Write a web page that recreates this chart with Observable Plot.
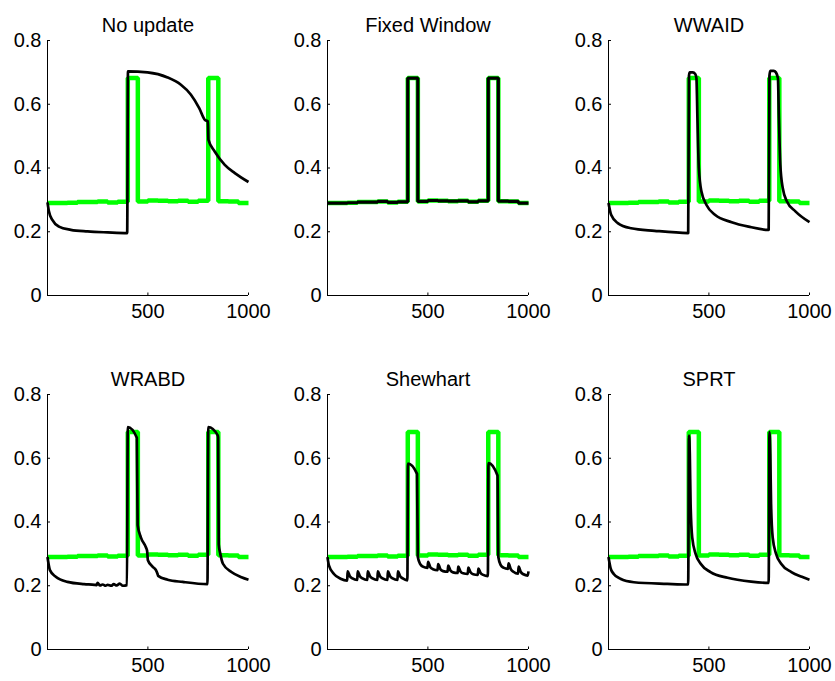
<!DOCTYPE html>
<html><head><meta charset="utf-8">
<script src="https://cdn.jsdelivr.net/npm/d3@7"></script>
<script src="https://cdn.jsdelivr.net/npm/@observablehq/plot@0.6"></script>
<style>
body{margin:0;background:#fff;}
#chart{position:relative;width:835px;height:681px;overflow:hidden;background:#fff;}
#chart > div{position:absolute;}
#chart svg{max-width:none !important;}
</style></head><body><div id="chart"></div>
<script>
// tick labels
const xTicks = [500, 1000];
const yTicks = [0, 0.2, 0.4, 0.6, 0.8];

// true probability (green)
const trueX = [1, 50, 100, 150, 200, 250, 300, 350, 400, 450, 500, 550, 600, 650, 700, 750, 800, 850, 900, 950, 1000];
const trueY = [0.290, 0.290, 0.291, 0.293, 0.293, 0.295, 0.292, 0.294, 0.682, 0.295, 0.298, 0.297, 0.296, 0.297, 0.294, 0.297, 0.682, 0.296, 0.295, 0.290, 0.290];

// No update
const noUpdateX = [1, 8, 25, 58, 117, 200, 300, 397, 401, 498, 598, 664, 714, 755, 783, 798, 801, 832, 882, 932, 1000];
const noUpdateY = [0.292, 0.264, 0.237, 0.216, 0.206, 0.201, 0.198, 0.196, 0.703, 0.700, 0.684, 0.661, 0.630, 0.588, 0.551, 0.546, 0.488, 0.452, 0.410, 0.384, 0.356];

// Fixed Window
const fixedX = [1, 50, 100, 150, 200, 250, 300, 350, 400, 450, 500, 550, 600, 650, 700, 750, 800, 850, 900, 950, 1000];
const fixedY = [0.290, 0.290, 0.291, 0.293, 0.293, 0.295, 0.292, 0.294, 0.682, 0.295, 0.298, 0.297, 0.296, 0.297, 0.294, 0.297, 0.682, 0.296, 0.295, 0.290, 0.290];

// WWAID
const wwaidX = [1, 14, 47, 113, 230, 397, 401, 405, 420, 432, 438, 443, 450, 463, 488, 530, 613, 697, 797, 801, 805, 822, 833, 843, 848, 855, 867, 888, 930, 1000];
const wwaidY = [0.290, 0.253, 0.227, 0.211, 0.203, 0.196, 0.690, 0.700, 0.700, 0.695, 0.682, 0.556, 0.400, 0.326, 0.284, 0.253, 0.230, 0.216, 0.206, 0.690, 0.705, 0.705, 0.700, 0.682, 0.556, 0.410, 0.337, 0.295, 0.264, 0.230];

// WRABD
const wrabdX = [1, 13, 42, 100, 183, 235, 245, 250, 262, 275, 290, 300, 318, 330, 345, 360, 375, 396, 400, 445, 449, 465, 490, 496, 500, 523, 540, 548, 551, 598, 673, 796, 800, 847, 849, 852, 860, 873, 915, 965, 1000];
const wrabdY = [0.290, 0.249, 0.228, 0.212, 0.205, 0.203, 0.202, 0.209, 0.201, 0.204, 0.200, 0.203, 0.200, 0.205, 0.201, 0.207, 0.200, 0.202, 0.698, 0.664, 0.390, 0.352, 0.321, 0.310, 0.280, 0.260, 0.249, 0.237, 0.231, 0.219, 0.212, 0.205, 0.698, 0.672, 0.665, 0.330, 0.300, 0.269, 0.243, 0.227, 0.219];

// Shewhart
const shewhartX = [1, 8, 33, 66, 99, 101, 112, 125, 149, 151, 162, 175, 199, 201, 212, 225, 249, 251, 262, 275, 299, 301, 312, 325, 349, 351, 362, 375, 398, 401, 446, 450, 462, 475, 498, 501, 512, 525, 548, 551, 562, 575, 598, 601, 612, 625, 648, 651, 662, 675, 698, 701, 712, 725, 748, 751, 762, 775, 798, 801, 846, 850, 862, 875, 898, 901, 912, 925, 948, 951, 962, 975, 996, 1000];
const shewhartY = [0.290, 0.264, 0.237, 0.222, 0.216, 0.245, 0.230, 0.223, 0.218, 0.245, 0.230, 0.223, 0.218, 0.245, 0.230, 0.223, 0.218, 0.245, 0.230, 0.223, 0.218, 0.245, 0.230, 0.223, 0.218, 0.245, 0.230, 0.223, 0.217, 0.583, 0.551, 0.290, 0.268, 0.260, 0.256, 0.275, 0.258, 0.252, 0.249, 0.268, 0.252, 0.246, 0.244, 0.263, 0.248, 0.242, 0.240, 0.260, 0.245, 0.239, 0.237, 0.257, 0.242, 0.236, 0.234, 0.254, 0.240, 0.234, 0.230, 0.585, 0.546, 0.290, 0.265, 0.257, 0.253, 0.270, 0.252, 0.244, 0.238, 0.260, 0.243, 0.236, 0.232, 0.245];

// SPRT
const sprtX = [1, 12, 27, 60, 127, 293, 397, 401, 405, 409, 417, 434, 459, 508, 593, 710, 797, 801, 805, 809, 817, 834, 859, 910, 962, 1000];
const sprtY = [0.290, 0.254, 0.237, 0.222, 0.211, 0.206, 0.204, 0.671, 0.614, 0.457, 0.352, 0.300, 0.269, 0.243, 0.225, 0.213, 0.209, 0.682, 0.614, 0.457, 0.352, 0.300, 0.269, 0.243, 0.228, 0.219];

const panelTitles = ["No update", "Fixed Window", "WWAID", "WRABD", "Shewhart", "SPRT"];
const panelXs = [noUpdateX, fixedX, wwaidX, wrabdX, shewhartX, sprtX];
const panelYs = [noUpdateY, fixedY, wwaidY, wrabdY, shewhartY, sprtY];

const colLeft = [47, 327, 608];
const rowTop = [40, 394];
const ml = 47, mr = 26, mt = 40, mb = 40, iw = 201, ih = 255;
const font = "Arial, 'Liberation Sans', Helvetica, sans-serif";
const chart = document.getElementById("chart");

panelTitles.forEach((title, i) => {
  const col = i % 3, row = Math.floor(i / 3);
  const truth = trueX.map((x, j) => ({x, y: trueY[j]}));
  const est = panelXs[i].map((x, j) => ({x, y: panelYs[i][j]}));
  const isFixed = title === "Fixed Window";
  const W = ml + iw + mr, H = mt + ih + mb;
  const svg = Plot.plot({
    width: W, height: H,
    marginLeft: ml, marginRight: mr, marginTop: mt, marginBottom: mb,
    style: {fontFamily: font, fontSize: "20px", background: "transparent", color: "#000", overflow: "visible", maxWidth: "none"},
    x: {domain: [1, 1000]},
    y: {domain: [0, 0.8]},
    marks: [
      Plot.line(truth, {x: "x", y: "y", curve: "step-after", stroke: "#00ff00", strokeWidth: 4.5, strokeLinejoin: "miter", strokeLinecap: "butt"}),
      Plot.line(est, {x: "x", y: "y", curve: isFixed ? "step-after" : "monotone-x", stroke: "#000", strokeWidth: isFixed ? 3.2 : 2.7, strokeLinejoin: isFixed ? "miter" : "round", strokeLinecap: "butt"}),
      Plot.ruleY([0], {stroke: "#000", strokeWidth: 1}),
      Plot.ruleX([1], {stroke: "#000", strokeWidth: 1}),
      Plot.axisX(xTicks, {tickSize: -2.5, tickPadding: 10.5, tickFormat: d => String(d), label: null, fontSize: 20}),
      Plot.axisY(yTicks, {tickSize: -3, tickPadding: 9, tickFormat: d => String(d), label: null, fontSize: 20}),
      Plot.text([title], {text: d => d, frameAnchor: "top", dy: -23, fontSize: 20})
    ]
  });
  const wrap = document.createElement("div");
  wrap.style.left = (colLeft[col] - ml) + "px";
  wrap.style.top = (rowTop[row] - mt) + "px";
  wrap.style.width = W + "px";
  wrap.style.height = H + "px";
  wrap.appendChild(svg);
  chart.appendChild(wrap);
});
</script>
</body></html>
